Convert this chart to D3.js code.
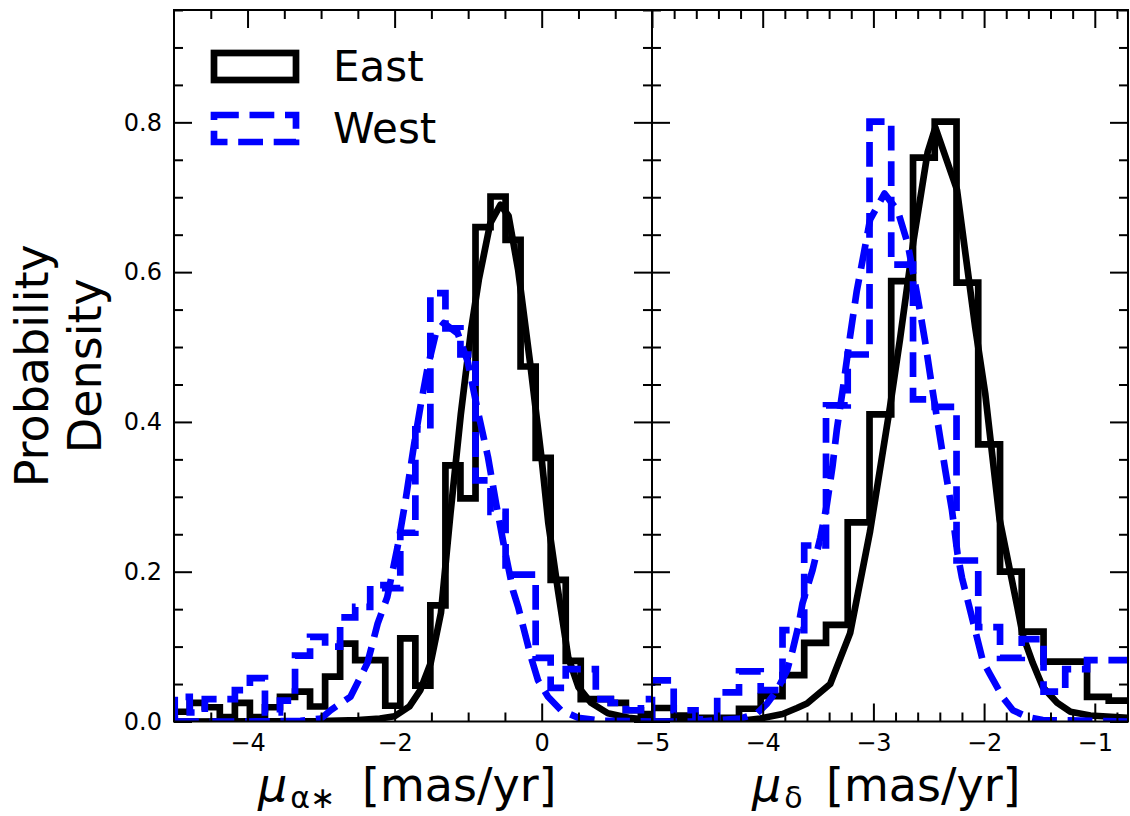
<!DOCTYPE html>
<html><head><meta charset="utf-8">
<script src="https://cdn.jsdelivr.net/npm/d3@7"></script>
<style>body{margin:0;background:#fff}svg{display:block}</style>
</head><body>
<svg id="chart" width="1130" height="816"></svg>
<script>
// ---------- data ----------
// left panel: mu_alpha*
const leftEdges = [-4.99,-4.786,-4.581,-4.377,-4.172,-3.968,-3.763,-3.559,-3.354,-3.15,-2.945,-2.741,-2.536,-2.332,-2.127,-1.923,-1.718,-1.514,-1.309,-1.105,-0.9,-0.696,-0.491,-0.287,-0.082,0.122,0.327,0.531,0.736,0.94,1.145,1.349,1.554];
const leftEast = [0.013,0.025,0.019,0.006,0.025,0.006,0.019,0.033,0.040,0.020,0.060,0.104,0.082,0.082,0.021,0.111,0.048,0.155,0.342,0.298,0.660,0.701,0.643,0.474,0.352,0.189,0.081,0.030,0.030,0.025,0.015,0.010];
const leftWest = [0.033,0.012,0.030,0.030,0.042,0.058,0.012,0.028,0.088,0.113,0.100,0.139,0.153,0.182,0.178,0.252,0.390,0.572,0.525,0.490,0.322,0.280,0.196,0.196,0.085,0.045,0.070,0.070,0.030,0.025,0.015,0.030];
const leftEastKdeX = [-5,-3.0,-2.5,-2.2,-2.0,-1.8,-1.65,-1.51,-1.37,-1.24,-1.1,-0.96,-0.855,-0.7,-0.56,-0.45,-0.32,-0.15,0.0,0.09,0.22,0.3,0.36,0.5,0.67,0.9,1.18,1.5];
const leftEastKdeY = [0.0,0.0005,0.002,0.004,0.007,0.02,0.042,0.078,0.145,0.278,0.41,0.523,0.59,0.665,0.69,0.675,0.603,0.473,0.35,0.265,0.176,0.125,0.086,0.046,0.025,0.011,0.005,0.002];
const leftWestKdeX = [-5,-4.0,-3.5,-3.28,-3.0,-2.87,-2.6,-2.37,-2.23,-2.1,-1.96,-1.85,-1.74,-1.65,-1.55,-1.44,-1.33,-1.14,-1.005,-0.87,-0.73,-0.62,-0.51,-0.39,-0.32,-0.146,-0.05,0.086,0.263,0.495,0.81,1.5];
const leftWestKdeY = [0.0,0.0,0.0005,0.001,0.004,0.015,0.033,0.078,0.131,0.166,0.233,0.296,0.367,0.42,0.473,0.518,0.532,0.518,0.48,0.415,0.353,0.291,0.233,0.175,0.153,0.086,0.055,0.033,0.015,0.005,0.001,0.0];

// right panel: mu_delta
const rightEdges = [-5.0,-4.804,-4.607,-4.411,-4.214,-4.018,-3.821,-3.625,-3.428,-3.232,-3.035,-2.839,-2.642,-2.446,-2.249,-2.053,-1.856,-1.66,-1.463,-1.267,-1.07,-0.874,-0.677];
const rightEast = [0.018,0.008,0.005,0.005,0.017,0.034,0.062,0.105,0.129,0.266,0.410,0.588,0.753,0.801,0.586,0.370,0.200,0.120,0.080,0.080,0.033,0.028];
const rightWest = [0.055,0.015,0.003,0.039,0.067,0.042,0.122,0.235,0.422,0.490,0.801,0.610,0.430,0.420,0.215,0.126,0.085,0.110,0.040,0.070,0.082,0.082];
const rightEastKdeX = [-5,-4.5,-4.2,-4.02,-3.82,-3.69,-3.6,-3.39,-3.21,-3.03,-2.85,-2.76,-2.64,-2.51,-2.44,-2.245,-2.08,-1.99,-1.86,-1.70,-1.65,-1.56,-1.47,-1.34,-1.22,-1.04,-0.7];
const rightEastKdeY = [0.0,0.0005,0.001,0.004,0.01,0.018,0.024,0.05,0.118,0.254,0.42,0.51,0.64,0.76,0.793,0.71,0.526,0.438,0.27,0.153,0.115,0.078,0.046,0.025,0.013,0.008,0.005];
const rightWestKdeX = [-5,-4.57,-4.2,-4.05,-3.96,-3.87,-3.78,-3.73,-3.68,-3.64,-3.55,-3.48,-3.42,-3.37,-3.33,-3.27,-3.21,-3.15,-3.08,-3.03,-2.90,-2.78,-2.69,-2.60,-2.53,-2.47,-2.42,-2.35,-2.29,-2.24,-2.20,-2.13,-2.01,-1.95,-1.83,-1.74,-1.61,-1.47,-0.7];
const rightWestKdeY = [0.0,0.0,0.004,0.011,0.024,0.042,0.068,0.095,0.126,0.158,0.202,0.245,0.29,0.34,0.39,0.45,0.515,0.575,0.63,0.67,0.705,0.682,0.638,0.566,0.505,0.446,0.40,0.335,0.282,0.224,0.192,0.151,0.08,0.064,0.032,0.015,0.006,0.002,0.0];

// ticks and labels
const yMajor = [0,0.2,0.4,0.6,0.8];
const yMajorLabels = ["0.0","0.2","0.4","0.6","0.8"];
const yMinor = [0.05,0.1,0.15,0.25,0.3,0.35,0.45,0.5,0.55,0.65,0.7,0.75,0.85,0.9,0.95];
const leftXMajor = [-4,-2,0];
const leftXMajorLabels = ["\u22124","\u22122","0"];
const leftXMinor = [-4.5,-3.5,-3,-2.5,-1.5,-1,-0.5,0.5,1];
const rightXMajor = [-5,-4,-3,-2,-1];
const rightXMajorLabels = ["\u22125","\u22124","\u22123","\u22122","\u22121"];
const rightXMinor = [-4.8,-4.6,-4.4,-4.2,-3.8,-3.6,-3.4,-3.2,-2.8,-2.6,-2.4,-2.2,-1.8,-1.6,-1.4,-1.2,-0.8];
const seriesNames = ["East","West"];
const seriesColors = ["#000000","#0000ff"];

// ---------- drawing ----------
const svg = d3.select("#chart");
const FONT = "DejaVu Sans, sans-serif";
const plotTop = 10, plotBottom = 721.5;
const y = d3.scaleLinear().domain([0,0.95]).range([plotBottom, plotTop]);
const xL = d3.scaleLinear().domain([-5,1.5]).range([174,652]);
const xR = d3.scaleLinear().domain([-5,-0.7]).range([652,1128]);
const LW = 6.7, DASH = "24.8,10.7";

function stepPoints(edges, vals){
  const pts = [[edges[0],0]];
  vals.forEach((v,i)=>{ pts.push([edges[i],v]); pts.push([edges[i+1],v]); });
  pts.push([edges[vals.length],0]);
  return pts;
}

function panel(id, x, edges, east, west, eKx, eKy, wKx, wKy, xMaj, xMajLab, xMin, showY){
  const [x0,x1] = x.range();
  svg.append("clipPath").attr("id","clip"+id)
    .append("rect").attr("x",x0).attr("y",plotTop).attr("width",x1-x0).attr("height",plotBottom-plotTop);
  const g = svg.append("g").attr("clip-path","url(#clip"+id+")");
  const line = d3.line().x(d=>x(d[0])).y(d=>y(d[1]));
  g.append("path").attr("d", line(stepPoints(edges,east)))
    .attr("fill","none").attr("stroke",seriesColors[0]).attr("stroke-width",LW).attr("stroke-linejoin","miter");
  g.append("path").attr("d", line(eKx.map((v,i)=>[v,eKy[i]])))
    .attr("fill","none").attr("stroke",seriesColors[0]).attr("stroke-width",LW).attr("stroke-linejoin","round");
  g.append("path").attr("d", line(stepPoints(edges,west)))
    .attr("fill","none").attr("stroke",seriesColors[1]).attr("stroke-width",LW).attr("stroke-dasharray",DASH).attr("stroke-linejoin","miter");
  g.append("path").attr("d", line(wKx.map((v,i)=>[v,wKy[i]])))
    .attr("fill","none").attr("stroke",seriesColors[1]).attr("stroke-width",LW).attr("stroke-dasharray",DASH).attr("stroke-linejoin","round");

  const MAJ = 18, MIN = 9;
  function style(sel){
    sel.select(".domain").remove();
    sel.selectAll(".tick line").attr("stroke","#000").attr("stroke-width",2);
    sel.selectAll(".tick text").attr("font-family",FONT).attr("font-size",24).attr("fill","#000");
    sel.attr("font-family",FONT).attr("font-size",24);
  }
  svg.append("g").attr("transform",`translate(0,${plotBottom})`)
    .call(d3.axisBottom(x).tickValues(xMaj).tickSize(-MAJ).tickPadding(12).tickFormat((d,i)=>xMajLab[i])).call(style);
  svg.append("g").attr("transform",`translate(0,${plotBottom})`)
    .call(d3.axisBottom(x).tickValues(xMin).tickSize(-MIN).tickFormat("")).call(style);
  svg.append("g").attr("transform",`translate(0,${plotTop})`)
    .call(d3.axisTop(x).tickValues(xMaj).tickSize(-MAJ).tickFormat("")).call(style);
  svg.append("g").attr("transform",`translate(0,${plotTop})`)
    .call(d3.axisTop(x).tickValues(xMin).tickSize(-MIN).tickFormat("")).call(style);
  svg.append("g").attr("transform",`translate(${x0},0)`)
    .call(d3.axisLeft(y).tickValues(yMajor).tickSize(-MAJ).tickPadding(12)
      .tickFormat((d,i)=> showY ? yMajorLabels[i] : "")).call(style);
  svg.append("g").attr("transform",`translate(${x0},0)`)
    .call(d3.axisLeft(y).tickValues(yMinor).tickSize(-MIN).tickFormat("")).call(style);
  svg.append("g").attr("transform",`translate(${x1},0)`)
    .call(d3.axisRight(y).tickValues(yMajor).tickSize(-MAJ).tickFormat("")).call(style);
  svg.append("g").attr("transform",`translate(${x1},0)`)
    .call(d3.axisRight(y).tickValues(yMinor).tickSize(-MIN).tickFormat("")).call(style);
  svg.append("rect").attr("x",x0).attr("y",plotTop).attr("width",x1-x0).attr("height",plotBottom-plotTop)
    .attr("fill","none").attr("stroke","#000").attr("stroke-width",2);
}

panel("L", xL, leftEdges, leftEast, leftWest, leftEastKdeX, leftEastKdeY, leftWestKdeX, leftWestKdeY,
      leftXMajor, leftXMajorLabels, leftXMinor, true);
panel("R", xR, rightEdges, rightEast, rightWest, rightEastKdeX, rightEastKdeY, rightWestKdeX, rightWestKdeY,
      rightXMajor, rightXMajorLabels, rightXMinor, false);

// legend
const leg = svg.append("g");
seriesNames.forEach((name,i)=>{
  const yy = 53 + i*62;
  leg.append("rect").attr("x",214).attr("y",yy).attr("width",82).attr("height",27)
    .attr("fill","none").attr("stroke",seriesColors[i]).attr("stroke-width",LW)
    .attr("stroke-dasharray", i===1 ? DASH : null).attr("stroke-linejoin","miter");
  leg.append("text").attr("x",333).attr("y",yy+28).attr("font-family",FONT).attr("font-size",42)
    .attr("fill","#000").text(name);
});

// y label
[["Probability",48],["Density",101]].forEach(([t,xx])=>{
  svg.append("text").attr("transform",`translate(${xx},${(plotTop+plotBottom)/2}) rotate(-90)`)
    .attr("text-anchor","middle").attr("font-family",FONT).attr("font-size",46).attr("fill","#000").text(t);
});

// x labels
function xlabel(xStart, sub, bracketX){
  const t = svg.append("text").attr("x",xStart).attr("y",801).attr("font-family",FONT).attr("font-size",46).attr("fill","#000");
  t.append("tspan").attr("font-style","italic").text("\u03bc");
  t.append("tspan").attr("font-size",30).attr("dx",3).attr("dy",7).text(sub);
  t.append("tspan").attr("x",bracketX).attr("dy",-7).text("[mas/yr]");
}
xlabel(258, "\u03b1\u2217", 362);
xlabel(752, "\u03b4", 826);
</script>
</body></html>
